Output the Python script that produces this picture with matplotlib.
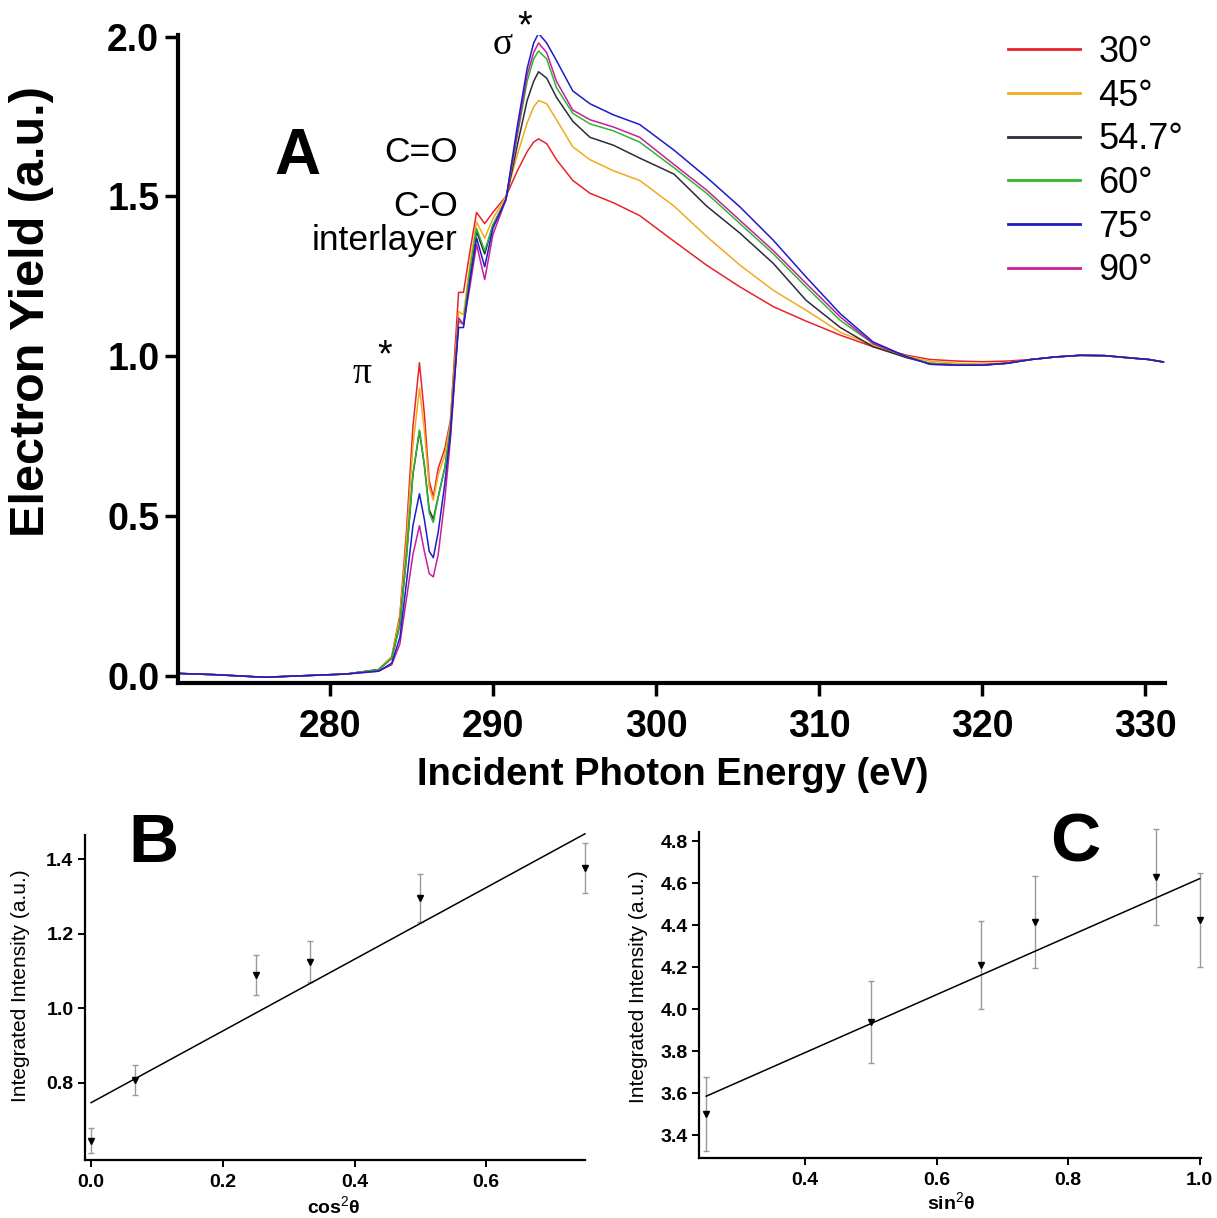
import numpy as np
import matplotlib
matplotlib.use("Agg")
import matplotlib.pyplot as plt
from matplotlib.ticker import FormatStrFormatter

plt.rcParams['font.family'] = ['Liberation Sans', 'DejaVu Sans']
plt.rcParams['mathtext.fontset'] = 'custom'
plt.rcParams['mathtext.rm'] = 'Liberation Sans'
plt.rcParams['mathtext.bf'] = 'Liberation Sans:bold'

# ---------------- Panel A data ----------------
energy_ev = [270.7, 273.0, 276.0, 279.0, 281.0, 283.0, 283.8, 284.3, 284.7, 285.1,
             285.5, 285.8, 286.1, 286.35, 286.65, 287.05, 287.4, 287.65, 287.9, 288.2,
             288.6, 289.0, 289.5, 290.0, 290.8, 291.5, 292.1, 292.5, 292.8, 293.3,
             293.9, 294.9, 295.95, 297.4, 299.0, 301.1, 303.1, 305.15, 307.2, 309.2,
             311.3, 313.3, 315.4, 316.8, 318.5, 320.0, 321.5, 323.0, 324.5, 326.0,
             327.5, 329.0, 330.2, 331.1]

yield_30 = [0.008, 0.004, -0.004, 0.002, 0.006, 0.02,
            0.06, 0.19, 0.45, 0.78, 0.98, 0.82, 0.61, 0.56, 0.65, 0.71, 0.80, 1.00, 1.20, 1.20,
            1.33, 1.45, 1.415, 1.45, 1.50, 1.58, 1.64, 1.67, 1.68, 1.665, 1.615, 1.55, 1.51, 1.48,
            1.44, 1.36, 1.285, 1.217, 1.155, 1.11, 1.066, 1.03, 1.003, 0.99, 0.985, 0.983, 0.985,
            0.99, 0.998, 1.003, 1.002, 0.996, 0.99, 0.983]
yield_45 = [0.008, 0.004, -0.004, 0.002, 0.006, 0.02,
            0.06, 0.18, 0.42, 0.72, 0.90, 0.77, 0.59, 0.55, 0.63, 0.69, 0.79, 0.97, 1.14, 1.13,
            1.29, 1.42, 1.37, 1.43, 1.50, 1.63, 1.73, 1.78, 1.80, 1.79, 1.74, 1.655, 1.615, 1.58,
            1.55, 1.47, 1.375, 1.285, 1.206, 1.144, 1.075, 1.035, 1.0, 0.985, 0.978, 0.976, 0.98,
            0.99, 0.998, 1.003, 1.002, 0.995, 0.99, 0.982]
yield_547 = [0.008, 0.004, -0.004, 0.002, 0.006, 0.02,
             0.055, 0.16, 0.37, 0.63, 0.765, 0.66, 0.52, 0.49, 0.56, 0.65, 0.77, 0.94, 1.11, 1.10,
             1.26, 1.39, 1.32, 1.41, 1.49, 1.66, 1.80, 1.86, 1.89, 1.87, 1.81, 1.735, 1.685, 1.66,
             1.62, 1.57, 1.47, 1.385, 1.29, 1.175, 1.09, 1.03, 0.995, 0.978, 0.973, 0.973, 0.978,
             0.99, 0.998, 1.003, 1.002, 0.995, 0.99, 0.982]
yield_60 = [0.008, 0.004, -0.004, 0.002, 0.006, 0.02,
            0.055, 0.16, 0.37, 0.63, 0.77, 0.66, 0.51, 0.48, 0.56, 0.65, 0.77, 0.94, 1.11, 1.10,
            1.27, 1.40, 1.33, 1.41, 1.49, 1.69, 1.86, 1.93, 1.955, 1.93, 1.84, 1.76, 1.727, 1.705,
            1.67, 1.59, 1.51, 1.415, 1.32, 1.217, 1.112, 1.04, 0.998, 0.978, 0.973, 0.973, 0.978,
            0.99, 0.998, 1.003, 1.002, 0.995, 0.99, 0.982]
yield_75 = [0.008, 0.004, -0.004, 0.002, 0.006, 0.015,
            0.04, 0.12, 0.29, 0.47, 0.57, 0.49, 0.39, 0.37, 0.45, 0.60, 0.76, 0.93, 1.09, 1.09,
            1.24, 1.37, 1.28, 1.40, 1.49, 1.72, 1.90, 1.98, 2.01, 1.98, 1.925, 1.83, 1.79, 1.755,
            1.725, 1.645, 1.56, 1.467, 1.3625, 1.248, 1.133, 1.045, 0.998, 0.975, 0.972, 0.972, 0.978,
            0.99, 0.998, 1.003, 1.002, 0.995, 0.99, 0.982]
yield_90 = [0.008, 0.004, -0.004, 0.002, 0.006, 0.015,
            0.035, 0.10, 0.24, 0.38, 0.47, 0.39, 0.32, 0.31, 0.38, 0.55, 0.74, 0.92, 1.12, 1.10,
            1.22, 1.35, 1.24, 1.38, 1.49, 1.70, 1.88, 1.95, 1.98, 1.95, 1.86, 1.77, 1.74, 1.717,
            1.685, 1.60, 1.52, 1.425, 1.33, 1.228, 1.123, 1.04, 0.998, 0.975, 0.972, 0.972, 0.978,
            0.99, 0.998, 1.003, 1.002, 0.995, 0.99, 0.982]

angle_labels = ['30°', '45°', '54.7°', '60°', '75°', '90°']
angle_colors = ['#e8232a', '#f2a91e', '#2b2b3b', '#2fb62f', '#1c1cc8', '#c81e9e']

# ---------------- Panel B data ----------------
cos2_theta = [0.0, 0.067, 0.25, 0.333, 0.5, 0.75]
intensity_b = [0.644, 0.807, 1.089, 1.125, 1.295, 1.377]
error_b = [0.033, 0.041, 0.055, 0.055, 0.064, 0.067]
fit_b_intercept = 0.746
fit_b_slope = 0.963

# ---------------- Panel C data ----------------
sin2_theta = [0.25, 0.5, 0.667, 0.75, 0.933, 1.0]
intensity_c = [3.503, 3.94, 4.21, 4.416, 4.63, 4.427]
error_c = [0.177, 0.194, 0.21, 0.22, 0.23, 0.224]
fit_c_intercept = 3.241
fit_c_slope = 1.381

W, H = 1217, 1218
fig = plt.figure(figsize=(W / 100, H / 100), dpi=100)


def rect(l, t, r, b):
    return [l / W, 1 - b / H, (r - l) / W, (b - t) / H]


# ================= Panel A =================
axA = fig.add_axes(rect(178, 35, 1165, 683))
series = [yield_30, yield_45, yield_547, yield_60, yield_90, yield_75]
order_labels = ['30°', '45°', '54.7°', '60°', '90°', '75°']
lines = {}
for lab, ys in zip(order_labels, series):
    c = angle_colors[angle_labels.index(lab)]
    ln, = axA.plot(energy_ev, ys, color=c, lw=1.1, label=lab)
    lines[lab] = ln

axA.set_xlim(270.7, 331.2)
axA.set_ylim(-0.022, 2.005)
axA.set_xticks([280, 290, 300, 310, 320, 330])
axA.set_yticks([0.0, 0.5, 1.0, 1.5, 2.0])
axA.yaxis.set_major_formatter(FormatStrFormatter('%.1f'))
for s in ['top', 'right']:
    axA.spines[s].set_visible(False)
for s in ['left', 'bottom']:
    axA.spines[s].set_linewidth(3)
axA.tick_params(axis='both', direction='out', length=9.5, width=2.5, labelsize=27)
axA.tick_params(axis='x', pad=9)
axA.tick_params(axis='y', pad=4)
for lbl in axA.get_xticklabels() + axA.get_yticklabels():
    lbl.set_fontweight('bold')

axA.set_xlabel('Incident Photon Energy (eV)', fontsize=27.5, fontweight='bold')
axA.xaxis.set_label_coords((673 - 178) / (1165 - 178), -(775 - 683) / (683 - 35))
axA.xaxis.label.set_va('center')
axA.set_ylabel('Electron Yield (a.u.)', fontsize=35, fontweight='bold')
axA.yaxis.set_label_coords(-(178 - 32) / (1165 - 178), (683 - 312) / (683 - 35))
axA.yaxis.label.set_va('center')

leg = axA.legend([lines[l] for l in angle_labels], angle_labels,
                 loc='upper left', bbox_to_anchor=(1008 / W, 1 - 35 / H),
                 bbox_transform=fig.transFigure, frameon=False, fontsize=26,
                 handlelength=2.0, handletextpad=0.5, labelspacing=0.24,
                 borderpad=0, borderaxespad=0)
for h in leg.get_lines():
    h.set_linewidth(2)

axA.text(287.85, 1.607, 'C=O', fontsize=25.5, ha='right', va='baseline')
axA.text(287.85, 1.44, 'C-O', fontsize=25.5, ha='right', va='baseline')
axA.text(287.85, 1.333, 'interlayer', fontsize=25.5, ha='right', va='baseline')
axA.text(282.0, 0.916, 'π', fontsize=27, ha='center', va='baseline', family='Liberation Serif')
axA.text(283.35, 1.0, '*', fontsize=27, ha='center', va='center')
axA.text(290.6, 1.947, 'σ', fontsize=27, ha='center', va='baseline', family='Liberation Serif')
axA.text(291.95, 2.03, '*', fontsize=27, ha='center', va='center')
fig.text(297 / W, 1 - 157 / H, 'A', fontsize=46, fontweight='bold', ha='center', va='center')


def style_small(ax):
    for s in ['top', 'right']:
        ax.spines[s].set_visible(False)
    for s in ['left', 'bottom']:
        ax.spines[s].set_linewidth(1.6)
    ax.tick_params(axis='both', direction='out', length=5, width=1.4, labelsize=14)
    ax.tick_params(axis='x', pad=5)
    ax.tick_params(axis='y', pad=3)
    ax.xaxis.set_major_formatter(FormatStrFormatter('%.1f'))
    ax.yaxis.set_major_formatter(FormatStrFormatter('%.1f'))
    for lbl in ax.get_xticklabels() + ax.get_yticklabels():
        lbl.set_fontweight('bold')


# ================= Panel B =================
axB = fig.add_axes(rect(84.5, 835, 585, 1160))
axB.errorbar(cos2_theta, intensity_b, yerr=error_b, fmt='none', ecolor='#9a9a9a',
             elinewidth=1.0, capsize=2.5, capthick=1.0, clip_on=False)
axB.plot(cos2_theta, intensity_b, 'v', color='black', ms=5, clip_on=False)
xb = np.array([cos2_theta[0], cos2_theta[-1]])
axB.plot(xb, fit_b_intercept + fit_b_slope * xb, color='black', lw=1.1, clip_on=False)
axB.set_xlim(-0.01, 0.75)
axB.set_ylim(0.592, 1.465)
axB.set_xticks([0.0, 0.2, 0.4, 0.6])
axB.set_yticks([0.8, 1.0, 1.2, 1.4])
style_small(axB)
axB.set_ylabel('Integrated Intensity (a.u.)', fontsize=15)
axB.yaxis.set_label_coords(-(84.5 - 21) / 500.5, (1160 - 986) / 325)
axB.yaxis.label.set_va('center')
axB.set_xlabel('cos$^2$θ', fontsize=14, fontweight='bold')
axB.xaxis.set_label_coords((334 - 84.5) / 500.5, -(1207 - 1160) / 325)
axB.xaxis.label.set_va('center')
fig.text(153 / W, 1 - 844 / H, 'B', fontsize=50, fontweight='bold', ha='center', va='center')

# ================= Panel C =================
axC = fig.add_axes(rect(699, 832, 1201, 1158))
axC.errorbar(sin2_theta, intensity_c, yerr=error_c, fmt='none', ecolor='#9a9a9a',
             elinewidth=1.0, capsize=2.5, capthick=1.0, clip_on=False)
axC.plot(sin2_theta, intensity_c, 'v', color='black', ms=5, clip_on=False)
xc = np.array([sin2_theta[0], sin2_theta[-1]])
axC.plot(xc, fit_c_intercept + fit_c_slope * xc, color='black', lw=1.1, clip_on=False)
axC.set_xlim(0.239, 1.002)
axC.set_ylim(3.292, 4.844)
axC.set_xticks([0.4, 0.6, 0.8, 1.0])
axC.set_yticks([3.4, 3.6, 3.8, 4.0, 4.2, 4.4, 4.6, 4.8])
style_small(axC)
axC.set_ylabel('Integrated Intensity (a.u.)', fontsize=15)
axC.yaxis.set_label_coords(-(699 - 639) / 502, (1158 - 987) / 326)
axC.yaxis.label.set_va('center')
axC.set_xlabel('sin$^2$θ', fontsize=14, fontweight='bold')
axC.xaxis.set_label_coords((951 - 699) / 502, -(1203 - 1158) / 326)
axC.xaxis.label.set_va('center')
fig.text(1075 / W, 1 - 843 / H, 'C', fontsize=50, fontweight='bold', ha='center', va='center')

fig.savefig('out.png', dpi=100)
